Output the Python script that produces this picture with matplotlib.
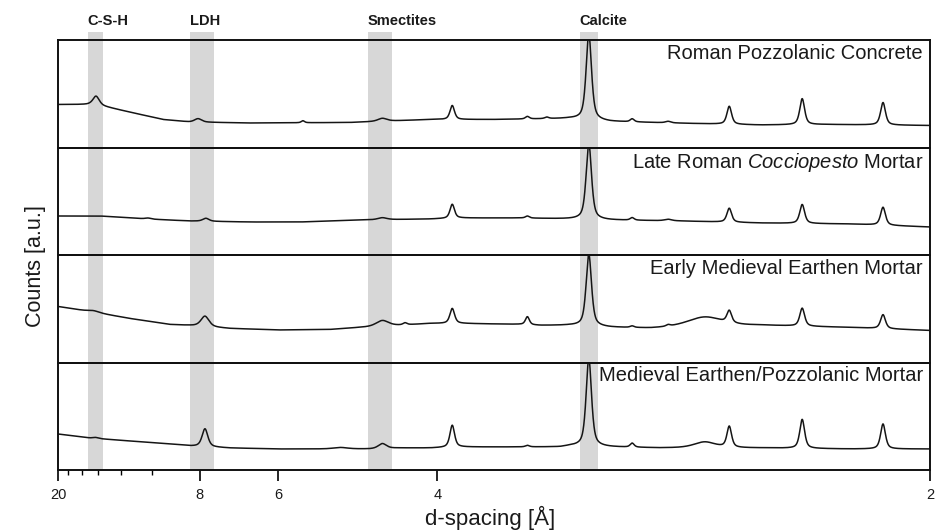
import numpy as np
import matplotlib
matplotlib.use("Agg")
import matplotlib.pyplot as plt
from matplotlib.transforms import blended_transform_factory

plt.rcParams["font.family"] = ["Liberation Sans", "DejaVu Sans"]
plt.rcParams["mathtext.fontset"] = "custom"
plt.rcParams["mathtext.rm"] = "Liberation Sans"
plt.rcParams["mathtext.it"] = "Liberation Sans:italic"

# ---------------- data ----------------
WAVELENGTH = 1.5406  # Cu K-alpha (Å)

panel_titles = [
    "Roman Pozzolanic Concrete",
    r"Late Roman $\mathit{Cocciopesto}$ Mortar",
    "Early Medieval Earthen Mortar",
    "Medieval Earthen/Pozzolanic Mortar",
]

band_labels = ["C-S-H", "LDH", "Smectites", "Calcite"]
band_d_high = [15.2, 8.35, 4.68, 3.09]
band_d_low = [13.55, 7.55, 4.42, 3.00]

tick_d_major = [20, 8, 6, 4, 2]
tick_labels_major = ["20", "8", "6", "4", "2"]
tick_d_minor = [18, 16, 14, 12, 10]

# background levels (d-spacing Å, counts a.u.)
bg1_d = [20.0, 14.93, 13.83, 9.46, 8.34, 6.59, 4.90, 4.06, 3.585, 3.137, 2.947, 2.620, 2.406, 2.227, 2.0]
bg1_v = [43, 43, 42, 28, 25.5, 24.5, 25, 28, 28, 29, 26, 24, 22.5, 23, 22]
bg2_d = [20.0, 13.83, 10.23, 8.34, 6.59, 5.62, 4.77, 4.06, 3.82, 3.414, 3.137, 2.947, 2.666, 2.406, 2.171, 2.0]
bg2_v = [39, 39, 36, 34, 33, 33, 35, 36, 37, 37, 36, 35, 34, 32, 31, 28]
bg3_d = [20.0, 14.93, 11.34, 9.14, 8.34, 7.09, 5.97, 5.16, 4.77, 4.52, 4.06, 3.82, 3.414, 3.297, 3.137, 2.947, 2.779, 2.406, 2.171, 2.0]
bg3_v = [56, 51, 44, 38, 37, 34, 32.5, 33, 35, 36, 39, 39, 38, 37, 37, 35, 34, 37, 35, 32]
bg4_d = [20.0, 14.93, 11.34, 9.14, 8.34, 7.09, 5.97, 5.30, 4.66, 4.34, 4.06, 3.82, 3.539, 3.189, 3.137, 2.947, 2.741, 2.406, 2.171, 2.0]
bg4_v = [36, 32, 29, 26, 24, 22, 21, 21, 21, 22, 22, 23, 23, 23, 24, 23, 22, 22, 21, 21]

# peaks: position (d, Å), height (a.u.), FWHM (deg 2-theta)
pk1_d = [14.25, 8.05, 5.57, 4.52, 3.88, 3.37, 3.26, 3.045, 2.852, 2.71, 2.50, 2.29, 2.097]
pk1_h = [9, 3.5, 2, 3, 14, 2.5, 1.5, 86, 3, 1.5, 18, 26, 22.5]
pk1_w = [0.35, 0.4, 0.18, 0.5, 0.25, 0.22, 0.22, 0.3, 0.22, 0.3, 0.26, 0.27, 0.27]

pk2_d = [10.23, 7.79, 4.52, 3.88, 3.37, 3.045, 2.852, 2.71, 2.50, 2.29, 2.097]
pk2_h = [1, 3, 2, 14, 2, 76, 2.5, 1.5, 14, 19, 18]
pk2_w = [0.3, 0.35, 0.5, 0.25, 0.22, 0.3, 0.22, 0.4, 0.26, 0.27, 0.27]

pk3_d = [14.5, 7.82, 4.52, 4.29, 3.88, 3.37, 3.045, 2.852, 2.71, 2.58, 2.50, 2.29, 2.097]
pk3_h = [1.5, 10.5, 6, 2, 15, 8, 72, 1.5, 1.5, 10, 12, 18, 14]
pk3_w = [0.6, 0.45, 0.7, 0.22, 0.26, 0.22, 0.3, 0.22, 0.22, 2.0, 0.26, 0.27, 0.27]

pk4_d = [14.3, 7.82, 5.02, 4.52, 3.88, 3.37, 3.045, 2.852, 2.58, 2.50, 2.29, 2.097]
pk4_h = [1, 18, 1.5, 5, 22, 1.5, 88, 4, 6, 21, 29, 25]
pk4_w = [0.3, 0.32, 0.8, 0.45, 0.26, 0.22, 0.3, 0.22, 1.2, 0.26, 0.27, 0.27]

backgrounds = [(bg1_d, bg1_v), (bg2_d, bg2_v), (bg3_d, bg3_v), (bg4_d, bg4_v)]
peaks = [(pk1_d, pk1_h, pk1_w), (pk2_d, pk2_h, pk2_w), (pk3_d, pk3_h, pk3_w), (pk4_d, pk4_h, pk4_w)]


def two_theta(d):
    return 2 * np.degrees(np.arcsin(WAVELENGTH / (2 * np.asarray(d, dtype=float))))


def pseudo_voigt(x, c, h, w, eta=0.6):
    z = (x - c) / (w / 2.0)
    return h * (eta / (1 + z ** 2) + (1 - eta) * np.exp(-np.log(2) * z ** 2))


x_lo, x_hi = two_theta(20.0), two_theta(2.0)
tt = np.linspace(x_lo, x_hi, 5000)

# ---------------- figure ----------------
W, H = 942, 532
fig = plt.figure(figsize=(W / 100, H / 100), dpi=100)
fig.patch.set_facecolor("white")

left = 58 / W
width = 872 / W
bottom = 62 / H
total_h = 430 / H
ph = total_h / 4

# band layer
axb = fig.add_axes([left, bottom, width, 438 / H])
axb.set_xlim(x_lo, x_hi)
axb.set_ylim(0, 1)
axb.axis("off")
trans = blended_transform_factory(axb.transData, fig.transFigure)
for lab, dh, dl in zip(band_labels, band_d_high, band_d_low):
    axb.axvspan(two_theta(dh), two_theta(dl), color="#d7d7d7", lw=0)
    axb.text(two_theta(dh), 1 - 21 / H, lab, transform=trans, ha="left", va="center",
             fontsize=10.5, fontweight="bold", color="#1a1a1a")

axes = []
for i in range(4):
    ax = fig.add_axes([left, bottom + (3 - i) * ph, width, ph])
    ax.set_facecolor("none")
    bd, bv = backgrounds[i]
    y = np.interp(tt, two_theta(bd), bv)
    for d, h, w in zip(*peaks[i]):
        y = y + pseudo_voigt(tt, two_theta(d), h, w)
    ax.plot(tt, y, color="#151515", lw=1.1)
    ax.set_xlim(x_lo, x_hi)
    ax.set_ylim(0, 107.5)
    ax.set_yticks([])
    for s in ax.spines.values():
        s.set_linewidth(1.4)
        s.set_color("#111111")
    ax.text(0.992, 0.965, panel_titles[i], transform=ax.transAxes, ha="right", va="top",
            fontsize=14.5, color="#1a1a1a")
    if i < 3:
        ax.set_xticks([])
    axes.append(ax)

axl = axes[-1]
axl.set_xticks(two_theta(tick_d_major))
axl.set_xticklabels(tick_labels_major, fontsize=10.5, color="#1a1a1a")
axl.set_xticks(two_theta(tick_d_minor), minor=True)
axl.tick_params(axis="x", which="major", length=8, width=1.2, pad=5, direction="out")
axl.tick_params(axis="x", which="minor", length=3.5, width=1.0, direction="out")

fig.text(490 / W, 1 - 518 / H, "d-spacing [Å]", ha="center", va="center", fontsize=16, color="#1a1a1a")
fig.text(35 / W, 1 - 266 / H, "Counts [a.u.]", ha="center", va="center", rotation=90,
         fontsize=15.5, color="#1a1a1a")

fig.savefig("out.png", dpi=100, facecolor="white")
